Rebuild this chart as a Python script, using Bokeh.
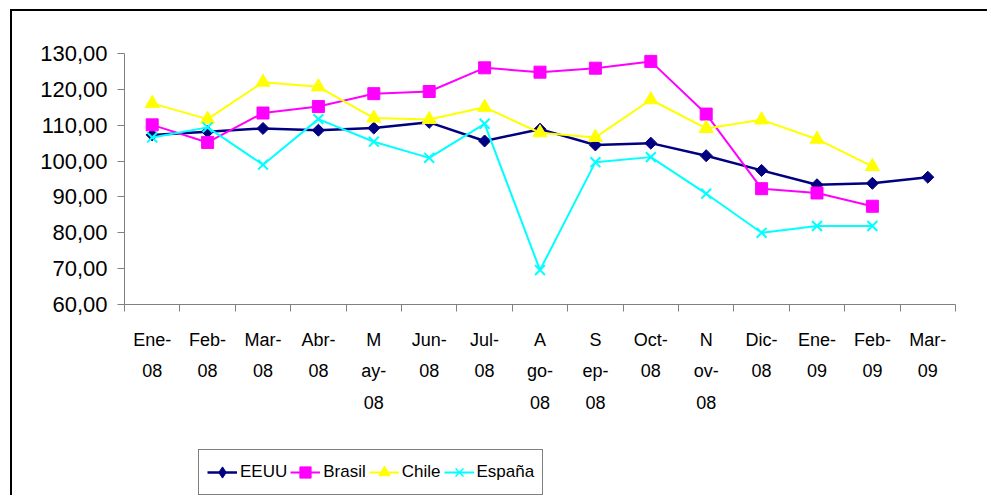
from bokeh.plotting import figure
from bokeh.layouts import column, row
from bokeh.models import (Range1d, FixedTicker, CustomJSTickFormatter, Legend,
                          LegendItem, Spacer)
from bokeh.embed import file_html
from bokeh.resources import INLINE

# ---- data ----
month_labels = ["Ene-\n08", "Feb-\n08", "Mar-\n08", "Abr-\n08", "M\nay-\n08",
                "Jun-\n08", "Jul-\n08", "A\ngo-\n08", "S\nep-\n08", "Oct-\n08",
                "N\nov-\n08", "Dic-\n08", "Ene-\n09", "Feb-\n09", "Mar-\n09"]
eeuu = [107.3, 108.2, 109.1, 108.6, 109.2, 110.8, 105.6, 108.9, 104.5, 105.0,
        101.5, 97.4, 93.4, 93.8, 95.5]
brasil = [110.1, 105.2, 113.4, 115.2, 118.8, 119.4, 126.0, 124.8, 125.9, 127.8,
          113.1, 92.3, 91.1, 87.4]
chile = [116.1, 111.7, 122.0, 120.7, 112.0, 111.6, 115.0, 107.9, 106.6, 117.1,
         109.1, 111.5, 106.1, 98.5]
espana = [106.6, 109.4, 99.0, 111.7, 105.4, 100.9, 110.4, 69.6, 99.7, 101.1,
          90.9, 80.0, 81.9, 81.9]
y_ticks = [60, 70, 80, 90, 100, 110, 120, 130]
series_names = ["EEUU", "Brasil", "Chile", "España"]

n = len(month_labels)

p = figure(width=977, height=430, output_backend="svg", toolbar_location=None,
           x_range=Range1d(0, n), y_range=Range1d(60, 130),
           min_border_left=112, min_border_right=34, min_border_top=42,
           min_border_bottom=137, background_fill_color="white",
           border_fill_color="white", outline_line_color=None)
p.grid.visible = False
p.styles = {"border-left": "2px solid black", "border-top": "2px solid black"}

# axes
xa = p.xaxis[0]
xa.ticker = FixedTicker(ticks=[i + 0.5 for i in range(n)],
                        minor_ticks=list(range(n + 1)))
xa.formatter = CustomJSTickFormatter(args=dict(labels=month_labels),
                                     code="return labels[Math.floor(tick)];")
xa.major_tick_out = 0
xa.major_tick_in = 0
xa.minor_tick_out = 7
xa.minor_tick_in = 0
xa.minor_tick_line_color = "#808080"
xa.axis_line_color = "#808080"
xa.major_label_text_font = "Liberation Sans"
xa.major_label_text_font_size = "18px"
xa.major_label_text_color = "black"
xa.major_label_text_line_height = 1.58
xa.major_label_standoff = 18

ya = p.yaxis[0]
ya.ticker = FixedTicker(ticks=y_ticks)
ya.formatter = CustomJSTickFormatter(code="return tick.toFixed(2).replace('.', ',');")
ya.major_tick_out = 7
ya.major_tick_in = 0
ya.minor_tick_out = 0
ya.minor_tick_in = 0
ya.major_tick_line_color = "#808080"
ya.axis_line_color = "#808080"
ya.major_label_text_font = "Liberation Sans"
ya.major_label_text_font_size = "22px"
ya.major_label_text_color = "black"
ya.major_label_standoff = 10

# legend figure (below the chart, inside the same bordered chart area);
# its ranges keep the series out of view so only the legend keys show
lg = figure(width=977, height=56, output_backend="svg", toolbar_location=None,
            x_range=Range1d(1000, 1001), y_range=Range1d(1000, 1001),
            x_axis_location=None, y_axis_location=None, min_border=0,
            background_fill_color="white", border_fill_color="white",
            outline_line_color=None)
lg.grid.visible = False
lg.styles = {"border-left": "2px solid black"}

specs = [
    (eeuu, "#000080", dict(marker="square", angle=0.785398, size=8.5),
     dict(marker="diamond", size=14), 2.5),
    (brasil, "#FF00FF", dict(marker="square", size=12), dict(marker="square", size=10), 2),
    (chile, "#FFFF00", dict(marker="triangle", size=14), dict(marker="triangle", size=13), 2),
    (espana, "#00FFFF", dict(marker="x", size=14, line_width=2),
     dict(marker="x", size=12, line_width=1.5), 2),
]
items = []
for name, (vals, color, mk, lmk, lw) in zip(series_names, specs):
    xs = [i + 0.5 for i in range(len(vals))]
    p.line(xs, vals, line_color=color, line_width=lw)
    p.scatter(xs, vals, fill_color=color, line_color=color, **mk)
    # legend keys (same series, outside the legend panel's visible range)
    kl = lg.line(xs, vals, line_color=color, line_width=lw)
    ks = lg.scatter(xs, vals, fill_color=color, line_color=color, **lmk)
    items.append(LegendItem(label=name, renderers=[kl, ks]))

legend = Legend(items=items, orientation="horizontal", location=(74, 0),
                border_line_color="black", border_line_width=1,
                background_fill_color="white", background_fill_alpha=1,
                label_text_font="Liberation Sans",
                label_text_font_size="17px", label_text_color="black",
                glyph_width=30, glyph_height=28, label_standoff=3,
                spacing=3, padding=8, margin=0)
lg.add_layout(legend, "center")

layout = column(Spacer(height=9), row(Spacer(width=10), column(p, lg)))

open("out.html", "w").write(file_html(layout, INLINE))
